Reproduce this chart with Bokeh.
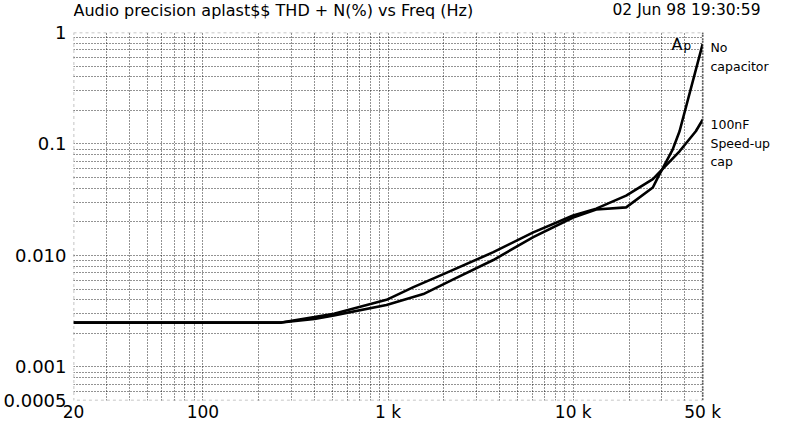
import math
from bokeh.plotting import figure
from bokeh.models import FixedTicker, Label, Range1d, BoxAnnotation, Span
from bokeh.layouts import column
from bokeh.embed import file_html
from bokeh.resources import INLINE

# ---- data ----
nocap_freq = [20, 265, 400, 510, 980, 1550, 2250, 3700, 6080, 9980,
              13300, 19300, 26900, 28600, 34400, 37500, 50000]
nocap_thd = [0.0025, 0.0025, 0.0027, 0.0029, 0.0036, 0.0045, 0.0061, 0.0091,
             0.0146, 0.0219, 0.0258, 0.0270, 0.0407, 0.0499, 0.089, 0.130, 0.79]

cap_freq = [20, 265, 400, 510, 980, 1370, 1990, 3700, 6080, 9980,
            13300, 19300, 26900, 37500, 45900, 50000]
cap_thd = [0.0025, 0.0025, 0.0028, 0.0030, 0.0040, 0.0052, 0.0068, 0.0107,
           0.0161, 0.0228, 0.0263, 0.0344, 0.0483, 0.086, 0.130, 0.165]

x_min, x_max = 20, 50000
y_min, y_max = 0.0005, 1

x_ticks = [20, 100, 1000, 10000, 50000]
x_tick_labels = ["20", "100", "1 k", "10 k", "50 k"]
y_ticks = [0.0005, 0.001, 0.01, 0.1, 1]
y_tick_labels = ["0.0005", "0.001", "0.010", "0.1", "1"]

x_grid = ([20, 30, 40, 50, 60, 70, 80, 90]
          + [m * 100 for m in range(1, 10)]
          + [m * 1000 for m in range(1, 10)]
          + [m * 10000 for m in range(1, 5)])
y_grid = ([m * 0.0001 for m in range(6, 10)]
          + [m * 0.001 for m in range(1, 10)]
          + [m * 0.01 for m in range(1, 10)]
          + [m * 0.1 for m in range(1, 10)])

title_text = "Audio precision aplast$$ THD + N(%) vs Freq (Hz)"
date_text = "02 Jun 98 19:30:59"
ap_main, ap_sub = "A", "p"
nocap_label = ["No", "capacitor"]
cap_label = ["100nF", "Speed-up", "cap"]

FONT = "DejaVu Sans"

# ---- layout geometry (pixels) ----
FIG_W = 772
TITLE_H = 20
MAIN_H = 404
FRAME_LEFT = 71       # frame left inside the main figure
PLOT_RIGHT = 702      # where 50 k lies inside the main figure
PAGE_X0, PAGE_Y0 = 8, 8
FRAME_TOP_PAGE = 40
FRAME_BOTTOM_PAGE = 411

# frame extends to the figure's right edge so that the curve labels can sit there
ppd = (PLOT_RIGHT - FRAME_LEFT) / math.log10(x_max / x_min)
x_end = x_max * 10 ** ((FIG_W - PLOT_RIGHT) / ppd)

# ---- title strip ----
t = figure(width=FIG_W, height=TITLE_H, x_range=Range1d(0, 1), y_range=Range1d(0, 1),
           output_backend="svg", toolbar_location=None, min_border=0,
           x_axis_location=None, y_axis_location=None)
t.outline_line_color = None
t.grid.visible = False
t.background_fill_color = "white"
t.border_fill_color = "white"

def tlab(text, px, py_top, size):
    return Label(x=px - PAGE_X0, y=(PAGE_Y0 + TITLE_H) - py_top,
                 x_units="screen", y_units="screen", text=text,
                 text_font=FONT, text_font_size=size, text_baseline="top",
                 text_align="left", text_color="black")

t.add_layout(tlab(title_text, 8, 8, "16px"))
t.add_layout(tlab(date_text, 547, 8, "15.5px"))

# ---- main plot ----
p = figure(width=FIG_W, height=MAIN_H, x_axis_type="log", y_axis_type="log",
           x_range=Range1d(x_min, x_end), y_range=Range1d(y_min, y_max),
           output_backend="svg", toolbar_location=None,
           min_border_left=FRAME_LEFT, min_border_right=0,
           min_border_top=FRAME_TOP_PAGE - (PAGE_Y0 + TITLE_H),
           min_border_bottom=(PAGE_Y0 + TITLE_H + MAIN_H) - FRAME_BOTTOM_PAGE)
p.background_fill_color = "white"
p.border_fill_color = "white"
p.outline_line_color = None

p.xgrid.ticker = FixedTicker(ticks=x_grid)
p.ygrid.ticker = FixedTicker(ticks=y_grid)
for g in (p.xgrid, p.ygrid):
    g.grid_line_color = "black"
    g.grid_line_dash = "1 2"
    g.grid_line_width = 1
    g.grid_line_alpha = 0.85

p.xaxis.ticker = FixedTicker(ticks=x_ticks)
p.xaxis.major_label_overrides = dict(zip(x_ticks, x_tick_labels))
p.yaxis.ticker = FixedTicker(ticks=y_ticks)
p.yaxis.major_label_overrides = dict(zip(y_ticks, y_tick_labels))
for ax in (p.xaxis, p.yaxis):
    ax.axis_line_color = None
    ax.major_tick_line_color = None
    ax.minor_tick_line_color = None
    ax.major_tick_out = 0
    ax.major_tick_in = 0
    ax.minor_tick_out = 0
    ax.minor_tick_in = 0
    ax.major_label_text_font = FONT
    ax.major_label_text_color = "black"
p.xaxis.major_label_text_font_size = "17px"
p.xaxis.major_label_standoff = 1
p.yaxis.major_label_text_font_size = "18px"
p.yaxis.major_label_standoff = 7

# curves
p.line(nocap_freq, nocap_thd, line_color="black", line_width=2.6)
p.line(cap_freq, cap_thd, line_color="black", line_width=2.6)

# white cover right of 50 k, then the plot-area border
p.add_layout(BoxAnnotation(left=x_max, fill_color="white", fill_alpha=1.0,
                           line_alpha=0))
p.add_layout(BoxAnnotation(left=x_min, right=x_max, bottom=y_min, top=y_max,
                           fill_alpha=0, line_color="black", line_dash="3 3",
                           line_width=1.6))
p.add_layout(Span(location=x_max, dimension="height", line_color="black",
                  line_dash="1 2", line_width=1.6))

def lab(text, px, py_top, size):
    return Label(x=px - (PAGE_X0 + FRAME_LEFT), y=FRAME_BOTTOM_PAGE - py_top,
                 x_units="screen", y_units="screen", text=text,
                 text_font=FONT, text_font_size=size, text_baseline="top",
                 text_align="left", text_color="black")

p.add_layout(lab(ap_main, 677, 45, "16px"))
p.add_layout(lab(ap_sub, 689, 49, "12px"))
for i, s in enumerate(nocap_label):
    p.add_layout(lab(s, 716, 50.5 + 19 * i, "12.5px"))
for i, s in enumerate(cap_label):
    p.add_layout(lab(s, 716, 127.5 + 18.5 * i, "12.5px"))

page = column(t, p, spacing=0)
open("out.html", "w").write(file_html(page, INLINE))
